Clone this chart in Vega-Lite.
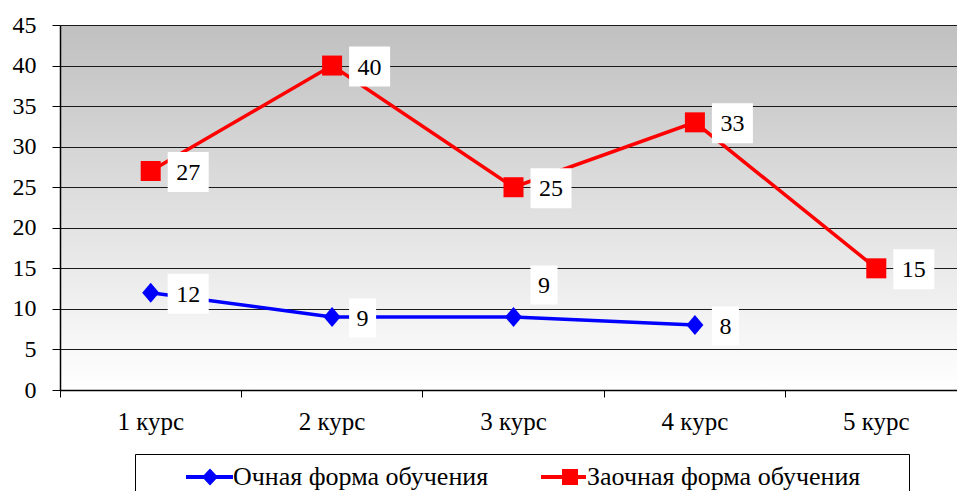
{
  "$schema": "https://vega.github.io/schema/vega-lite/v6.json",
  "width": 907,
  "height": 365,
  "autosize": {"type": "none"},
  "padding": {"left": 60, "top": 25, "right": 0, "bottom": 101},
  "background": "white",
  "config": {
    "view": {
      "stroke": null,
      "fill": {"gradient": "linear", "x1": 0, "y1": 0, "x2": 0, "y2": 1, "stops": [{"offset": 0, "color": "#c0c0c0"}, {"offset": 1, "color": "#ffffff"}]}
    },
    "axis": {
      "domainColor": "#000", "tickColor": "#000", "labelColor": "#000",
      "labelFont": "Liberation Serif, Times New Roman, serif", "labelFontSize": 24, "gridColor": "#1a1a1a", "gridOpacity": 1, "title": null
    },
    "legend": {"labelFont": "Liberation Serif, Times New Roman, serif"},
    "text": {"font": "Liberation Serif, Times New Roman, serif"}
  },
  "data": {"values": [
    {"course": "1 курс", "series": "Очная форма обучения", "value": 12},
    {"course": "2 курс", "series": "Очная форма обучения", "value": 9},
    {"course": "3 курс", "series": "Очная форма обучения", "value": 9},
    {"course": "4 курс", "series": "Очная форма обучения", "value": 8},
    {"course": "1 курс", "series": "Заочная форма обучения", "value": 27},
    {"course": "2 курс", "series": "Заочная форма обучения", "value": 40},
    {"course": "3 курс", "series": "Заочная форма обучения", "value": 25},
    {"course": "4 курс", "series": "Заочная форма обучения", "value": 33},
    {"course": "5 курс", "series": "Заочная форма обучения", "value": 15}
  ]},
  "encoding": {
    "x": {"field": "course", "type": "nominal",
      "scale": {"type": "band", "paddingInner": 0, "paddingOuter": 0, "domain": ["1 курс", "2 курс", "3 курс", "4 курс", "5 курс"]},
      "axis": {"bandPosition": 0, "labelAngle": 0, "tickSize": 7, "labelPadding": 12, "labelFontSize": 25, "grid": false, "domainWidth": 1.5}},
    "y": {"field": "value", "type": "quantitative",
      "scale": {"domain": [0, 45], "nice": false},
      "axis": {"values": [0, 5, 10, 15, 20, 25, 30, 35, 40, 45], "tickSize": 8, "labelPadding": 16, "grid": true, "domainWidth": 1.5}}
  },
  "layer": [
    {
      "transform": [{"filter": "datum.series === 'Очная форма обучения'"}],
      "layer": [
        {"mark": {"type": "line", "strokeWidth": 3.5, "color": "#0000ff"}, "encoding": {}},
        {"mark": {"type": "point", "filled": true, "opacity": 1, "size": 400, "color": "#0000ff", "shape": "M-0.85,0L0,-1L0.85,0L0,1Z"}, "encoding": {}}
      ]
    },
    {
      "transform": [{"filter": "datum.series === 'Заочная форма обучения'"}],
      "layer": [
        {"mark": {"type": "line", "strokeWidth": 3.5, "color": "#ff0000"}, "encoding": {}},
        {"mark": {"type": "point", "filled": true, "opacity": 1, "size": 400, "color": "#ff0000", "shape": "M-1,-1H1V1H-1Z"}, "encoding": {}}
      ]
    },
    {
      "transform": [{"filter": "false"}],
      "mark": {"type": "point", "filled": true, "opacity": 1},
      "encoding": {
        "color": {"field": "series", "type": "nominal",
          "scale": {"domain": ["Очная форма обучения", "Заочная форма обучения"], "range": ["#0000ff", "#ff0000"]},
          "legend": {"title": null, "orient": "none", "legendX": 75, "legendY": 429, "direction": "horizontal",
            "strokeColor": "#000", "fillColor": "#fff", "padding": 10, "symbolSize": 400, "symbolOpacity": 1, "labelOffset": 62,
            "labelFontSize": 26, "labelColor": "#000", "columnPadding": 10, "labelLimit": 0, "symbolStrokeWidth": 0,
            "labelExpr": "datum.value === 'Заочная форма обучения' ? datum.label + '\u2800\u2800' : datum.label"}
        },
        "shape": {"field": "series", "type": "nominal",
          "scale": {"domain": ["Очная форма обучения", "Заочная форма обучения"], "range": ["M2.8,-0.2H7.5V0.2H2.8ZM4.4,0L5.2,-0.85L6,0L5.2,0.85Z", "M2.9,-0.2H7.4V0.2H2.9ZM5,-0.8H6.6V0.8H5Z"]},
          "legend": {"title": null, "orient": "none", "legendX": 75, "legendY": 429, "direction": "horizontal",
            "strokeColor": "#000", "fillColor": "#fff", "padding": 10, "symbolSize": 400, "symbolOpacity": 1, "labelOffset": 62,
            "labelFontSize": 26, "labelColor": "#000", "columnPadding": 10, "labelLimit": 0, "symbolStrokeWidth": 0,
            "labelExpr": "datum.value === 'Заочная форма обучения' ? datum.label + '\u2800\u2800' : datum.label"}
        }
      }
    },
    {
      "transform": [{"filter": "datum.value >= 10"}],
      "layer": [
        {"mark": {"type": "point", "filled": true, "opacity": 1, "color": "#ffffff", "size": 1600, "shape": "M-1.025,-1H1.025V1H-1.025Z", "xOffset": 37.5, "yOffset": 1}},
        {"mark": {"type": "text", "fontSize": 24, "color": "#000", "align": "center", "baseline": "middle", "xOffset": 37.5, "yOffset": 2},
         "encoding": {"text": {"field": "value", "type": "quantitative"}}}
      ]
    },
    {
      "transform": [{"filter": "datum.value < 10 && !(datum.course === '3 курс')"}],
      "layer": [
        {"mark": {"type": "point", "filled": true, "opacity": 1, "color": "#ffffff", "size": 1600, "shape": "M-0.675,-0.975H0.675V0.975H-0.675Z", "xOffset": 30.5, "yOffset": 1}},
        {"mark": {"type": "text", "fontSize": 24, "color": "#000", "align": "center", "baseline": "middle", "xOffset": 30.5, "yOffset": 2},
         "encoding": {"text": {"field": "value", "type": "quantitative"}}}
      ]
    },
    {
      "transform": [{"filter": "datum.value < 10 && datum.course === '3 курс'"}],
      "layer": [
        {"mark": {"type": "point", "filled": true, "opacity": 1, "color": "#ffffff", "size": 1600, "shape": "M-0.675,-0.975H0.675V0.975H-0.675Z", "xOffset": 30.5, "yOffset": -32}},
        {"mark": {"type": "text", "fontSize": 24, "color": "#000", "align": "center", "baseline": "middle", "xOffset": 30.5, "yOffset": -31},
         "encoding": {"text": {"field": "value", "type": "quantitative"}}}
      ]
    }
  ]
}
